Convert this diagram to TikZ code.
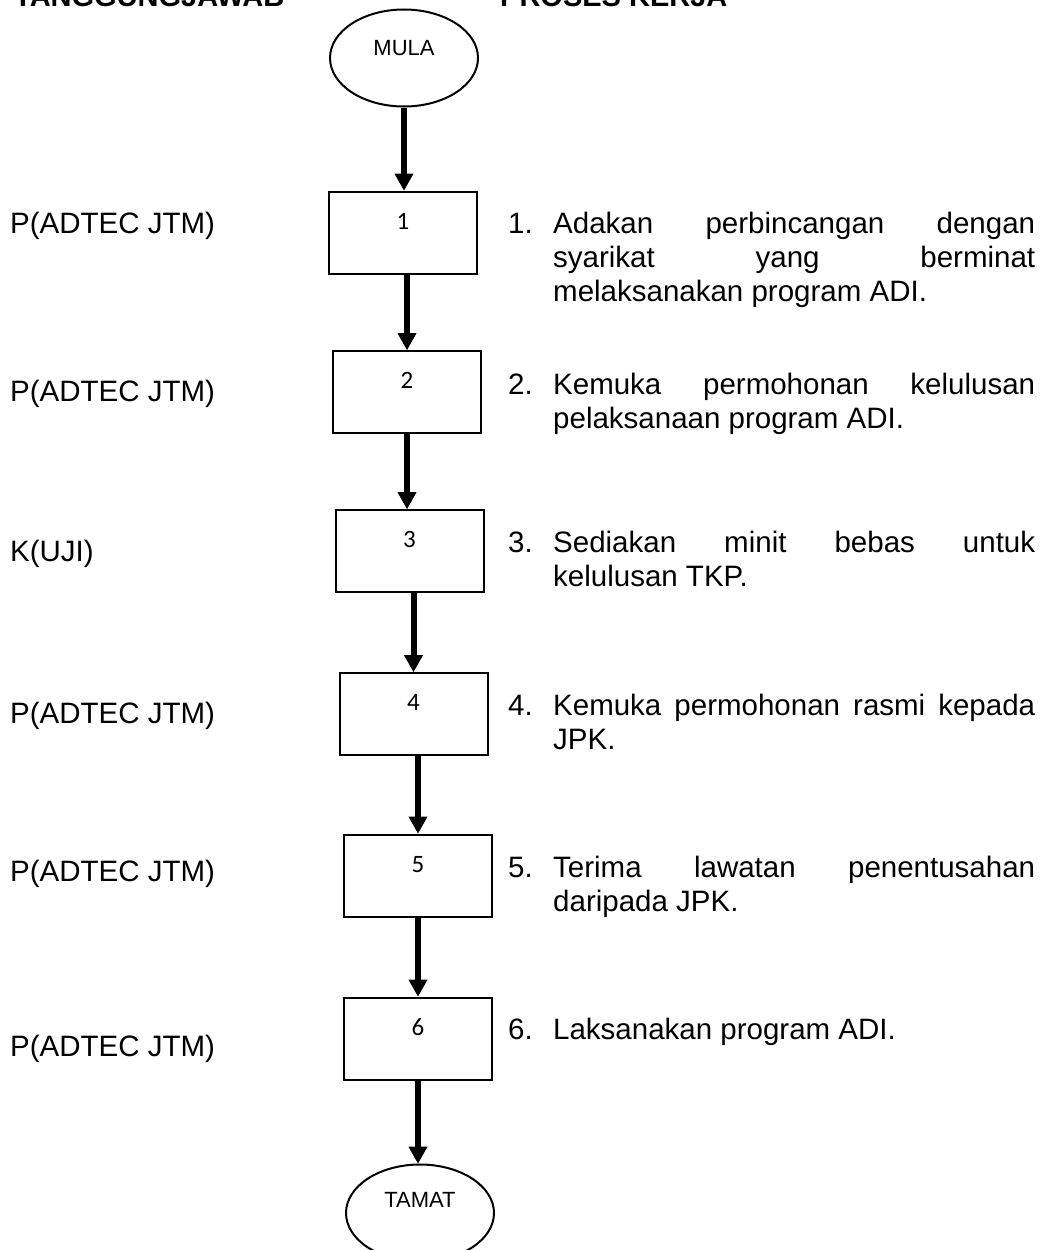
\documentclass[tikz,border=0pt]{standalone}
\usepackage{fontspec}
\setmainfont{Liberation Sans}
\newfontfamily\numfont{Carlito}
\usetikzlibrary{shapes.geometric,arrows.meta}
\newcommand\stepitem[2]{\parbox[t]{527pt}{\noindent\hangindent=45pt\hangafter=1
  \hyphenpenalty=10000\exhyphenpenalty=10000\tolerance=10000
  \makebox[45pt][l]{#1}#2}}
\begin{document}
\begin{tikzpicture}[x=1pt,y=-1pt,
  lbl/.style={anchor=base west, inner sep=0, font=\fontsize{29.5}{34}\selectfont},
  hdr/.style={anchor=base west, inner sep=0, font=\bfseries\fontsize{29}{34}\selectfont},
  stepbox/.style={draw, line width=2pt, rectangle, minimum width=148pt, minimum height=82pt,
    inner sep=0, font=\numfont\fontsize{25}{28}\selectfont, text height=16pt, text depth=23pt},
  term/.style={draw, line width=2pt, ellipse, minimum width=148pt, minimum height=97pt,
    inner sep=0, font=\fontsize{22}{26}\selectfont, text height=16pt},
  arr/.style={line width=6pt, -{Triangle[width=19pt,length=17pt,line width=1pt]}}
]
\useasboundingbox (0,0) rectangle (1044,1250);
\clip (0,0) rectangle (1044,1250);

% headers (cut off at top, as in the reference)
\node[hdr] (h1) at (14,6) {TANGGUNGJAWAB};
\node[hdr] (h2) at (500,6) {PROSES KERJA};

% terminals
\node[term, text depth=22pt] (mula) at (404,58) {MULA};
\node[term, text depth=28pt] (tamat) at (420,1213) {TAMAT};

% process boxes
\node[stepbox] (b1) at (403,232.5) {1};
\node[stepbox] (b2) at (407,392) {2};
\node[stepbox] (b3) at (409.5,551) {3};
\node[stepbox] (b4) at (413.5,714) {4};
\node[stepbox] (b5) at (418,875.5) {5};
\node[stepbox] (b6) at (418,1038.5) {6};

% arrows
\draw[arr] (mula.south) -- (mula.south |- b1.north);
\draw[arr] (b1.south -| b2.north) -- (b2.north);
\draw[arr] (b2.south) -- (b2.south |- b3.north);
\draw[arr] (b3.south -| b4.north) -- (b4.north);
\draw[arr] (b4.south -| b5.north) -- (b5.north);
\draw[arr] (b5.south) -- (b5.south |- b6.north);
\draw[arr] (b6.south) -- (b6.south |- tamat.north);

% responsibility labels
\node[lbl] (r1) at (10,233) {P(ADTEC JTM)};
\node[lbl] (r2) at (10,401) {P(ADTEC JTM)};
\node[lbl] (r3) at (10,561) {K(UJI)};
\node[lbl] (r4) at (10,723) {P(ADTEC JTM)};
\node[lbl] (r5) at (10,881) {P(ADTEC JTM)};
\node[lbl] (r6) at (10,1056) {P(ADTEC JTM)};

% process descriptions
\node[lbl] (t1) at (508,233) {\stepitem{1.}{Adakan perbincangan dengan\linebreak syarikat yang berminat\linebreak melaksanakan program ADI.}};
\node[lbl] (t2) at (508,394) {\stepitem{2.}{Kemuka permohonan kelulusan\linebreak pelaksanaan program ADI.}};
\node[lbl] (t3) at (508,552) {\stepitem{3.}{Sediakan minit bebas untuk\linebreak kelulusan TKP.}};
\node[lbl] (t4) at (508,715) {\stepitem{4.}{Kemuka permohonan rasmi kepada\linebreak JPK.}};
\node[lbl] (t5) at (508,877) {\stepitem{5.}{Terima lawatan penentusahan\linebreak daripada JPK.}};
\node[lbl] (t6) at (508,1039) {\stepitem{6.}{Laksanakan program ADI.}};
\end{tikzpicture}
\end{document}
